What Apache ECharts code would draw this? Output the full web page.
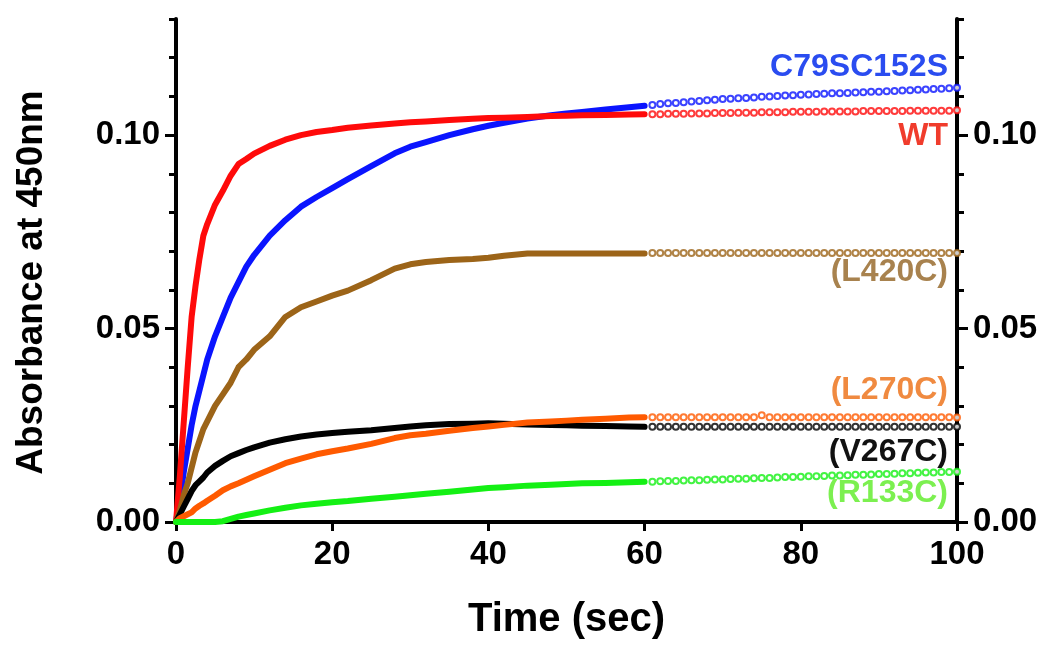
<!DOCTYPE html>
<html>
<head>
<meta charset="utf-8">
<script src="https://cdn.jsdelivr.net/npm/echarts@6/dist/echarts.min.js"></script>
<style>
    html, body {margin: 0; padding: 0; background: #fff;}
    #chart {width: 1050px; height: 652px;}
</style>
</head>
<body>
<div id="chart"></div>
<script>
// time points of the dense (solid) part, sec
const tSolid = [0, 0.5, 1, 1.5, 2, 2.5, 3, 3.5, 4, 5, 6, 7, 8, 9, 10, 12, 14, 16, 18, 20,
    22, 25, 28, 30, 32, 35, 38, 40, 42, 45, 48, 50, 52, 55, 58, 60]
// time points of the open-circle part, sec
const tDots = [61, 62, 63, 64, 65, 66, 67, 68, 69, 70, 71, 72, 73, 74, 75, 76, 77, 78, 79, 80,
    81, 82, 83, 84, 85, 86, 87, 88, 89, 90, 91, 92, 93, 94, 95, 96, 97, 98, 99, 100]

const wtSolid = [0, 0.012, 0.026, 0.040, 0.053, 0.061, 0.068, 0.074, 0.077, 0.082, 0.0856, 0.0895, 0.0925, 0.0938, 0.0952, 0.0972, 0.0988, 0.1000, 0.1008, 0.1013,
    0.1019, 0.1025, 0.1030, 0.1033, 0.1035, 0.1039, 0.1042, 0.1044, 0.1045, 0.1047, 0.1049, 0.1050, 0.1051, 0.1052, 0.1053, 0.1054]
const wtDots = [0.1054, 0.1054, 0.1055, 0.1055, 0.1055, 0.1056, 0.1056, 0.1056, 0.1057, 0.1057,
    0.1057, 0.1058, 0.1058, 0.1058, 0.1059, 0.1059, 0.1059, 0.1059, 0.1060, 0.1060,
    0.1060, 0.1060, 0.1061, 0.1061, 0.1061, 0.1061, 0.1061, 0.1062, 0.1062, 0.1062,
    0.1062, 0.1062, 0.1062, 0.1063, 0.1063, 0.1063, 0.1063, 0.1063, 0.1063, 0.1064]

const c79Solid = [0, 0.006, 0.013, 0.019, 0.025, 0.030, 0.034, 0.038, 0.042, 0.048, 0.053, 0.058, 0.062, 0.066, 0.069, 0.074, 0.078, 0.0815, 0.0840, 0.0863,
    0.0886, 0.0920, 0.0953, 0.0970, 0.0982, 0.1000, 0.1015, 0.1024, 0.1032, 0.1043, 0.1051, 0.1056, 0.1060, 0.1066, 0.1072, 0.1076]
const c79Dots = [0.1078, 0.1080, 0.1082, 0.1083, 0.1085, 0.1087, 0.1088, 0.1090, 0.1091, 0.1093,
    0.1094, 0.1095, 0.1096, 0.1097, 0.1099, 0.1100, 0.1101, 0.1102, 0.1103, 0.1104,
    0.1105, 0.1106, 0.1107, 0.1108, 0.1108, 0.1109, 0.1110, 0.1111, 0.1112, 0.1112,
    0.1113, 0.1114, 0.1115, 0.1116, 0.1117, 0.1118, 0.1119, 0.1120, 0.1121, 0.1122]

const l420Solid = [0, 0.003, 0.007, 0.010, 0.014, 0.018, 0.021, 0.024, 0.026, 0.030, 0.033, 0.036, 0.040, 0.042, 0.0445, 0.048, 0.053, 0.0555, 0.057, 0.0585,
    0.0598, 0.0625, 0.0655, 0.0666, 0.0672, 0.0677, 0.0680, 0.0683, 0.0688, 0.0694, 0.0694, 0.0694, 0.0694, 0.0694, 0.0694, 0.0694]
const l420Dots = [0.0695, 0.0695, 0.0695, 0.0695, 0.0695, 0.0695, 0.0695, 0.0695, 0.0695, 0.0695,
    0.0695, 0.0695, 0.0695, 0.0695, 0.0695, 0.0695, 0.0695, 0.0695, 0.0695, 0.0695,
    0.0695, 0.0695, 0.0695, 0.0695, 0.0695, 0.0695, 0.0695, 0.0695, 0.0695, 0.0695,
    0.0695, 0.0695, 0.0695, 0.0695, 0.0695, 0.0695, 0.0695, 0.0695, 0.0695, 0.0695]

const l270Solid = [0, 0.001, 0.0015, 0.002, 0.0025, 0.0035, 0.0042, 0.0048, 0.0055, 0.0068, 0.0082, 0.0092, 0.0100, 0.0109, 0.0118, 0.0135, 0.0152, 0.0164, 0.0175, 0.0183,
    0.0190, 0.0202, 0.0217, 0.0224, 0.0228, 0.0236, 0.0243, 0.0247, 0.0251, 0.0257, 0.0260, 0.0262, 0.0264, 0.0267, 0.0270, 0.0271]
const l270Dots = [0.0271, 0.0271, 0.0271, 0.0271, 0.0271, 0.0271, 0.0271, 0.0271, 0.0271, 0.0271,
    0.0271, 0.0271, 0.0271, 0.0271, 0.0276, 0.0271, 0.0271, 0.0271, 0.0271, 0.0271,
    0.0271, 0.0271, 0.0271, 0.0271, 0.0271, 0.0271, 0.0271, 0.0271, 0.0271, 0.0271,
    0.0271, 0.0271, 0.0271, 0.0271, 0.0271, 0.0271, 0.0271, 0.0271, 0.0271, 0.0270]

const v267Solid = [0, 0.002, 0.004, 0.006, 0.008, 0.0095, 0.0105, 0.0115, 0.0128, 0.0145, 0.0158, 0.0170, 0.0178, 0.0186, 0.0193, 0.0205, 0.0214, 0.0221, 0.0226, 0.0230,
    0.0233, 0.0237, 0.0243, 0.0247, 0.0250, 0.0253, 0.0254, 0.0255, 0.0254, 0.0252, 0.0251, 0.0250, 0.0249, 0.0248, 0.0247, 0.0246]
const v267Dots = [0.0246, 0.0246, 0.0246, 0.0246, 0.0246, 0.0246, 0.0246, 0.0246, 0.0246, 0.0246,
    0.0246, 0.0246, 0.0246, 0.0246, 0.0246, 0.0246, 0.0246, 0.0246, 0.0246, 0.0246,
    0.0246, 0.0246, 0.0246, 0.0246, 0.0246, 0.0246, 0.0246, 0.0246, 0.0246, 0.0246,
    0.0246, 0.0246, 0.0246, 0.0246, 0.0246, 0.0246, 0.0246, 0.0246, 0.0246, 0.0246]

const r133Solid = [0, 0, 0, 0, 0, 0, 0, 0, 0, 0, 0.0002, 0.0008, 0.0014, 0.0018, 0.0022, 0.0030, 0.0037, 0.0043, 0.0047, 0.0051,
    0.0054, 0.0060, 0.0065, 0.0069, 0.0073, 0.0078, 0.0084, 0.0088, 0.0090, 0.0094, 0.0096, 0.0098, 0.0100, 0.0101, 0.0103, 0.0104]
const r133Dots = [0.0104, 0.0105, 0.0106, 0.0106, 0.0107, 0.0108, 0.0108, 0.0109, 0.0110, 0.0110,
    0.0111, 0.0112, 0.0112, 0.0113, 0.0114, 0.0114, 0.0115, 0.0116, 0.0116, 0.0117,
    0.0118, 0.0118, 0.0119, 0.0120, 0.0120, 0.0121, 0.0122, 0.0122, 0.0123, 0.0124,
    0.0124, 0.0125, 0.0126, 0.0126, 0.0127, 0.0128, 0.0128, 0.0129, 0.0129, 0.0130]

const yTickLabels = [0, 0.05, 0.10]
const xTickLabels = [0, 20, 40, 60, 80, 100]

const curves = [
    {name: 'C79SC152S', solid: c79Solid, dots: c79Dots, color: '#0a14ff', text: '#2a4cf0'},
    {name: 'WT', solid: wtSolid, dots: wtDots, color: '#ff0a0a', text: '#f03c2c'},
    {name: '(L420C)', solid: l420Solid, dots: l420Dots, color: '#9c6418', text: '#a8824e'},
    {name: '(V267C)', solid: v267Solid, dots: v267Dots, color: '#000000', text: '#111111'},
    {name: '(L270C)', solid: l270Solid, dots: l270Dots, color: '#ff5a00', text: '#f08a40'},
    {name: '(R133C)', solid: r133Solid, dots: r133Dots, color: '#14f014', text: '#7cf050'}
]

// where the curve names sit (right aligned)
const labelPos = {
    'C79SC152S': 68, 'WT': 137, '(L420C)': 273, '(L270C)': 391, '(V267C)': 453, '(R133C)': 494
}

const FONT = "'Liberation Sans', Arial, sans-serif"

const chart = echarts.init(document.getElementById('chart'))

const series = []
curves.forEach(c => {
    series.push({
        name: c.name,
        type: 'line',
        data: tSolid.map((t, i) => [t, c.solid[i]]),
        showSymbol: false,
        smooth: false,
        lineStyle: {color: c.color, width: 6, join: 'round', cap: 'round'},
        z: 3
    })
    series.push({
        name: c.name + ' dots',
        type: 'scatter',
        data: tDots.map((t, i) => [t, c.dots[i]]),
        symbol: 'emptyCircle',
        symbolSize: 6,
        itemStyle: {color: c.color, borderColor: c.color, borderWidth: 1.6},
        z: 3
    })
})

function yAxis(pos, major) {
    return {
        type: 'value',
        position: pos,
        min: 0,
        max: 0.13,
        interval: major ? 0.05 : 0.01,
        name: pos === 'left' && !major ? 'Absorbance at 450nm' : '',
        nameLocation: 'middle',
        nameGap: 126,
        nameTextStyle: {fontFamily: FONT, fontWeight: 'bold', fontSize: 37, color: '#000', padding: [0, 24, 0, 0]},
        axisLine: {show: !major, lineStyle: {color: '#000', width: 4}},
        axisTick: {
            show: true,
            length: major ? 11 : 7,
            customValues: major ? yTickLabels : undefined,
            lineStyle: {color: '#000', width: 3}
        },
        axisLabel: {
            show: major,
            customValues: major ? yTickLabels : undefined,
            margin: 16,
            fontFamily: FONT, fontWeight: 'bold', fontSize: 33, color: '#000',
            formatter: v => (yTickLabels.some(y => Math.abs(y - v) < 1e-9) ? v.toFixed(2) : '')
        },
        splitLine: {show: false}
    }
}

const option = {
    backgroundColor: '#fff',
    animation: false,
    grid: {left: 176, right: 93, top: 19, bottom: 130},
    xAxis: [{
        type: 'value',
        min: 0,
        max: 100,
        interval: 20,
        name: 'Time (sec)',
        nameLocation: 'middle',
        nameGap: 78,
        nameTextStyle: {fontFamily: FONT, fontWeight: 'bold', fontSize: 40, color: '#000'},
        axisLine: {lineStyle: {color: '#000', width: 4}},
        axisTick: {length: 9, lineStyle: {color: '#000', width: 3}},
        axisLabel: {
            margin: 16,
            fontFamily: FONT, fontWeight: 'bold', fontSize: 33, color: '#000',
            customValues: xTickLabels
        },
        splitLine: {show: false}
    }, {
        type: 'value',
        position: 'top',
        min: 0,
        max: 100,
        axisLine: {lineStyle: {color: '#000', width: 4}},
        axisTick: {show: false},
        axisLabel: {show: false},
        splitLine: {show: false}
    }],
    yAxis: [yAxis('left', false), yAxis('left', true), yAxis('right', false), yAxis('right', true)],
    series: series,
    graphic: curves.map(c => ({
        type: 'text',
        right: 1050 - 948,
        top: labelPos[c.name] - 17,
        style: {
            text: c.name,
            fill: c.text,
            font: 'bold 32px ' + FONT
        },
        z: 10
    }))
}

chart.setOption(option)
</script>
</body>
</html>
